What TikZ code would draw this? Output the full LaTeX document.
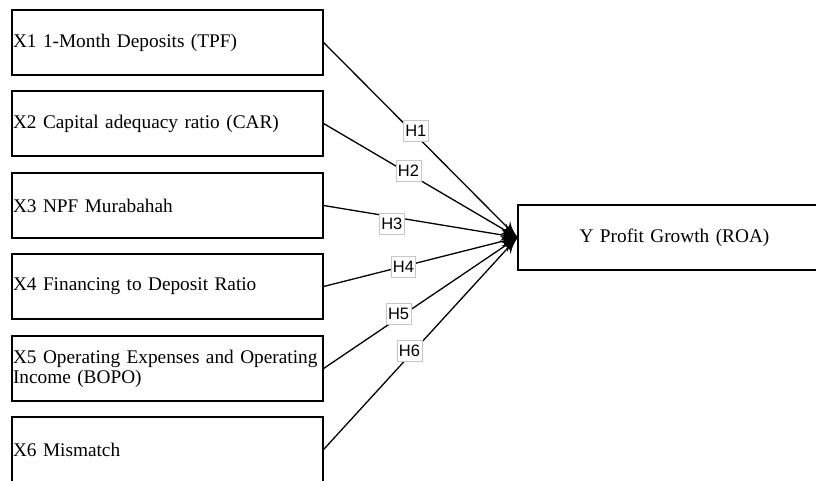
\documentclass[tikz,border=0pt]{standalone}
\usepackage{fontspec}
\setmainfont{Liberation Serif}
\setsansfont{Liberation Sans}
\usepackage{tikz}
\usetikzlibrary{arrows}
\usetikzlibrary{decorations.markings}
\tikzset{varbox/.style = {draw, line width=1.2pt, minimum width=311pt, minimum height=65pt,
                          text width=309pt, inner xsep=1pt, inner ysep=2pt, align=left,
                          font=\fontsize{19.3}{20}\selectfont},
         hlabel/.style = {fill=white, draw=gray!45, line width=0.6pt, inner xsep=1.8pt, inner ysep=4.8pt,
                          font=\sffamily\fontsize{16.5}{16.5}\selectfont},
         link/.style = {line width=1.3pt, decoration={markings,
                                  mark=at position 1 with {\arrow[scale=2.5]{latex'}}},
                        postaction={decorate}}}

\begin{document}
\begin{tikzpicture}[x=1pt, y=-1pt]
      \useasboundingbox (0, 0) rectangle (816, 480);

      \node [varbox] (x1) at (167.5, 42.5) {X1 1-Month Deposits (TPF)};
      \node [varbox] (x2) at (167.5, 123.5) {X2 Capital adequacy ratio (CAR)};
      \node [varbox] (x3) at (167.5, 205.5) {X3 NPF Murabahah};
      \node [varbox] (x4) at (167.5, 286.5) {X4 Financing to Deposit Ratio};
      \node [varbox] (x5) at (167.5, 368.5) {X5 Operating Expenses and Operating\\Income (BOPO)};
      \node [varbox] (x6) at (167.5, 449.5) {X6 Mismatch};

      \node [varbox, minimum width=313pt, text width=311pt, align=center] (y) at (674.5, 237.5) {Y Profit Growth (ROA)};

      \draw [link] (x1.east) -- (y.west) node [hlabel, pos=0.476, yshift=4.3pt] {H1};
      \draw [link] (x2.east) -- (y.west) node [hlabel, pos=0.438, yshift=2.4pt] {H2};
      \draw [link] (x3.east) -- (y.west) node [hlabel, pos=0.352, yshift=-6.7pt] {H3};
      \draw [link] (x4.east) -- (y.west) node [hlabel, pos=0.412, yshift=-0.7pt] {H4};
      \draw [link] (x5.east) -- (y.west) node [hlabel, pos=0.387, yshift=4pt] {H5};
      \draw [link] (x6.east) -- (y.west) node [hlabel, pos=0.443, yshift=4.6pt] {H6};

    \end{tikzpicture}
\end{document}
